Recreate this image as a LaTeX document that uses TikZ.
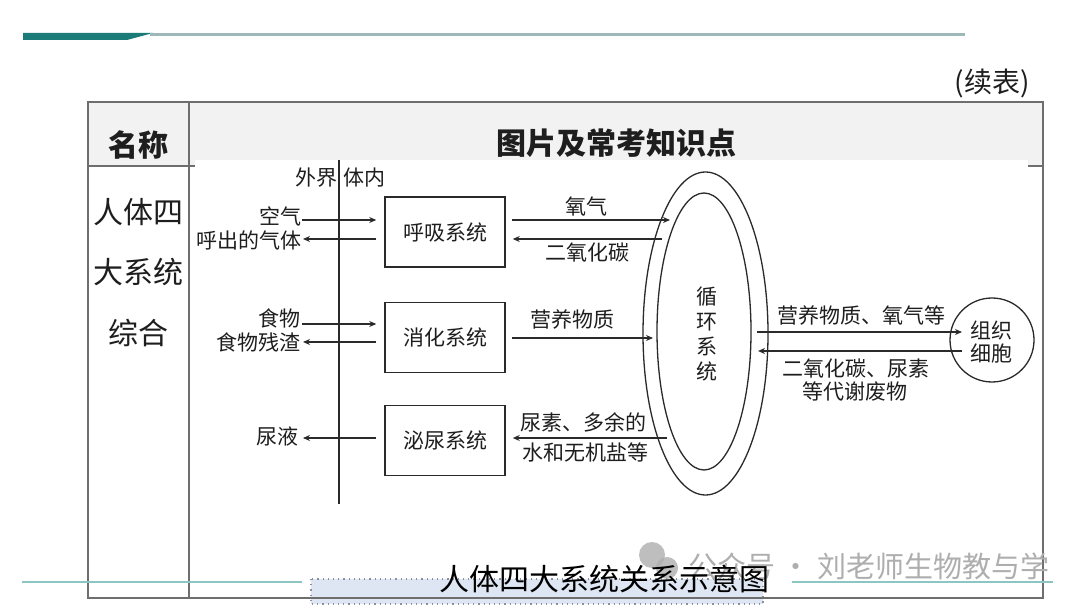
\documentclass[tikz,border=0pt]{standalone}
\usepackage{fontspec}
\newfontfamily\cjk{Noto Sans CJK SC}
\usetikzlibrary{arrows.meta,calc,shapes.geometric}
\definecolor{tealdark}{HTML}{1B7B79}
\definecolor{teallight}{HTML}{9DB8B6}
\definecolor{tealfoot}{HTML}{8CC6C2}
\definecolor{bd}{HTML}{6E6E6E}
\definecolor{ln}{HTML}{2A2A2A}
\definecolor{txt}{HTML}{1E1E1E}
\definecolor{hdr}{HTML}{F2F2F2}
\definecolor{capfill}{HTML}{DEE6F3}
\definecolor{capline}{HTML}{8A90A0}
\definecolor{wm}{HTML}{AEAEAE}
\begin{document}
\begin{tikzpicture}[x=0.5pt,y=-0.5pt,
  every node/.style={inner sep=0pt, text=txt},
  dfont/.style={font=\cjk\fontsize{10.5pt}{12.5pt}\selectfont},
  bigfont/.style={font=\cjk\fontsize{15pt}{18pt}\selectfont},
  boldfont/.style={font=\cjk\bfseries\fontsize{15pt}{18pt}\selectfont},
  sysbox/.style={draw=ln, line width=0.75pt, minimum width=60pt, minimum height=35pt, dfont},
  arr/.style={draw=ln, line width=0.6pt, -{Stealth[length=3.5pt,width=3pt]}},
  ring/.style={ellipse, draw=ln, line width=0.65pt, inner sep=0pt},
]
\useasboundingbox (0,0) rectangle (1080,608);
\fill[white] (0,0) rectangle (1080,608);

% top decoration
\fill[tealdark] (23,33) -- (153,33) -- (127,40) -- (23,40) -- cycle;
\draw[teallight, line width=1.5pt] (150,34.5) -- (965,34.5);

% continued label
\node[font=\cjk\fontsize{14pt}{16pt}\selectfont] (cont) at (992,83) {(续表)};

% table
\fill[hdr] (88,102) rectangle (1043,166);
\fill[white] (195,160) rectangle (1028,560);
\fill[capfill] (311,579) rectangle (763,604);
\draw[capline, dotted, line width=0.6pt] (311,579) rectangle (763,604);
\draw[bd, line width=0.7pt] (88,102) rectangle (1043,598);
\draw[bd, line width=0.7pt] (189,102) -- (189,598);
\draw[bd, line width=0.7pt] (88,166) -- (195,166);
\draw[bd, line width=0.7pt] (1028,166) -- (1043,166);

% footer lines
\draw[tealfoot, line width=1pt] (22,582) -- (302,582);
\draw[tealfoot, line width=1pt] (792,582) -- (1053,582);

% header texts
\node[boldfont] (hname) at (138,145) {名称};
\node[boldfont] (hcont) at (616,143) {图片及常考知识点};
\node[bigfont] (r1) at (138,212) {人体四};
\node[bigfont] (r2) at (138,272) {大系统};
\node[bigfont] (r3) at (138,333) {综合};

% boundary line
\coordinate (vtop) at (339,160);
\coordinate (vbot) at (339,504);
\draw[ln, line width=0.75pt] (vtop) -- (vbot);
\node[dfont] (outside) at (316,178) {外界};
\node[dfont] (inside) at (364,178) {体内};

% systems
\node[sysbox] (resp) at (445,232) {呼吸系统};
\node[sysbox] (dig) at (445,337.5) {消化系统};
\node[sysbox] (uri) at (445,440.5) {泌尿系统};

% circulatory system
\node[ring, minimum width=62.5pt, minimum height=161.5pt] (outer) at (705.5,333.5) {};
\node[ring, minimum width=47pt, minimum height=138.5pt] (inner) at (704,331.5) {};
\node[dfont, align=center, font=\cjk\fontsize{10.5pt}{12.5pt}\selectfont] (circ) at (707,333.5) {循\\环\\系\\统};

% tissue cells
\node[circle, draw=ln, line width=0.65pt, minimum size=42pt] (cell) at (992,340) {};
\node[align=center, font=\cjk\fontsize{10.5pt}{11.5pt}\selectfont] (celltxt) at (991,342.5) {组织\\细胞};

% outside labels
\node[dfont, anchor=east] (air) at (302,216) {空气};
\node[dfont, anchor=east] (exh) at (302,240) {呼出的气体};
\node[dfont, anchor=east] (food) at (301,318) {食物};
\node[dfont, anchor=east] (feces) at (301,342) {食物残渣};
\node[dfont, anchor=east] (urine) at (299,436) {尿液};

\draw[arr] ($(air.east)+(0,4)$) -- ($(resp.west)+(-8,-12)$);
\draw[arr] ($(resp.west)+(-8,7)$) -- ($(exh.east)+(1,-1)$);
\draw[arr] ($(food.east)+(1,6)$) -- ($(dig.west)+(-8,-13.5)$);
\draw[arr] ($(dig.west)+(-8,4.5)$) -- ($(feces.east)+(2,0)$);
\draw[arr] ($(uri.west)+(-8,-2.5)$) -- ($(urine.east)+(4,2)$);

% between systems and circulation
\draw[arr] ($(resp.east)+(6,-12)$) -- ($(outer.center)+(-35.5,-113.5)$);
\draw[arr] ($(outer.center)+(-43.5,-94.5)$) -- ($(resp.east)+(7,7)$);
\draw[arr] ($(dig.east)+(6,0.5)$) -- ($(outer.center)+(-52.5,4.5)$);
\draw[arr] ($(outer.center)+(-38.5,104.5)$) -- ($(uri.east)+(7,-2.5)$);
\node[dfont] (o2) at (586,207) {氧气};
\node[dfont] (co2) at (587,253) {二氧化碳};
\node[dfont] (nut) at (572,320) {营养物质};
\node[dfont] (urea1) at (583,422) {尿素、多余的};
\node[dfont] (urea2) at (585,452) {水和无机盐等};

% between circulation and cells
\draw[arr] ($(outer.center)+(51.5,-1.5)$) -- ($(cell.center)+(-30,-8)$);
\draw[arr] ($(cell.center)+(-30,11)$) -- ($(outer.center)+(52.5,17.5)$);
\node[dfont] (give) at (861,316) {营养物质、氧气等};
\node[dfont] (waste1) at (856,369) {二氧化碳、尿素};
\node[dfont] (waste2) at (855,392) {等代谢废物};

% watermark
\fill[wm, opacity=0.8] (652,555) circle (13);
\fill[wm, opacity=0.8] (667,568) circle (11);
\node[font=\cjk\fontsize{14.5pt}{16pt}\selectfont, text=wm, anchor=west] (wmark) at (688,566) {公众号 · 刘老师生物教与学};

% caption
\node[font=\cjk\fontsize{15pt}{18pt}\selectfont, text=black] (cap) at (604,579) {人体四大系统关系示意图};
\end{tikzpicture}
\end{document}
